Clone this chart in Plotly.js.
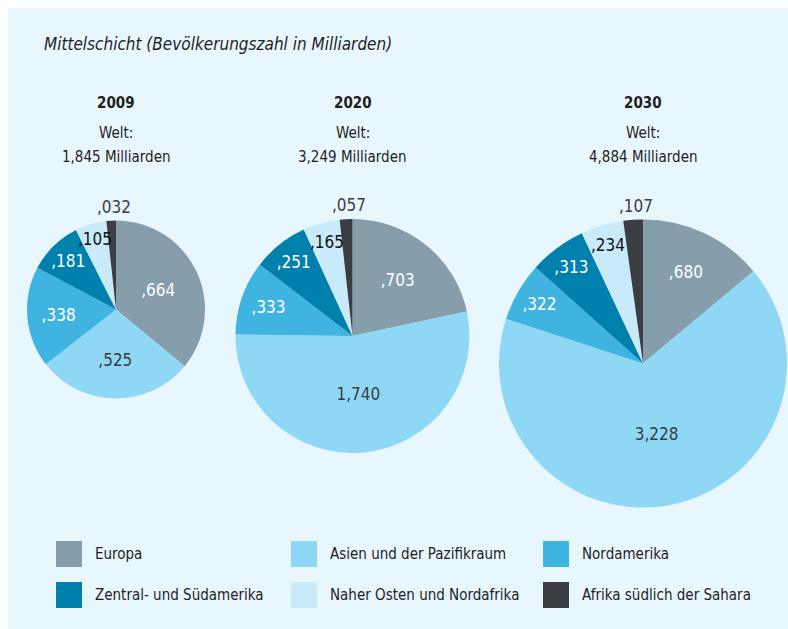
<!DOCTYPE html>
<html>
<head>
<meta charset="utf-8">
<script src="https://cdn.plot.ly/plotly-3.0.1.min.js"></script>
<style>
html,body{margin:0;padding:0;background:#fff;}
#chart{width:788px;height:629px;}
</style>
</head>
<body>
<div id="chart"></div>
<script>
// ---- data ----
const regions = ["Europa", "Asien und der Pazifikraum", "Nordamerika", "Zentral- und Südamerika", "Naher Osten und Nordafrika", "Afrika südlich der Sahara"];
const years = ["2009", "2020", "2030"];
const values2009 = [0.664, 0.525, 0.338, 0.181, 0.105, 0.032];
const values2020 = [0.703, 1.740, 0.333, 0.251, 0.165, 0.057];
const values2030 = [0.680, 3.228, 0.322, 0.313, 0.234, 0.107];
const chartTitle = "Mittelschicht (Bevölkerungszahl in Milliarden)";

// ---- styles ----
const colors = ["#869eab", "#8fd8f5", "#3fb4e0", "#0080ad", "#c8eaf9", "#3c3d42"];
const insideColors = ["#ffffff", "#3a3b40", "#ffffff", "#ffffff", "#111111", "#3c3d42"];
// slices 4 and 5 get their labels as annotations placed from the slice angles
const textPos = ["inside", "inside", "inside", "inside", "none", "none"];
const FONT = "'DejaVu Sans Condensed', 'DejaVu Sans', sans-serif";
const W = 788, H = 629;
const pieGeom = [
  {cx: 116, cy: 309.5, r: 89},
  {cx: 352.5, cy: 336, r: 117},
  {cx: 643, cy: 363.5, r: 144}
];

function fmt(v) {
  let s = v.toFixed(3).replace('.', ',');
  if (s.startsWith('0,')) s = s.slice(1);
  return s;
}

const allValues = [values2009, values2020, values2030];
const traces = allValues.map((vals, i) => {
  const g = pieGeom[i];
  return {
    type: 'pie',
    labels: regions,
    values: vals,
    text: vals.map(fmt),
    textinfo: 'text',
    texttemplate: '%{text}',
    hoverinfo: 'label+text',
    sort: false,
    direction: 'clockwise',
    rotation: 0,
    marker: {colors: colors, line: {width: 0}},
    textposition: textPos,
    insidetextorientation: 'horizontal',
    insidetextfont: {family: FONT, size: 17, color: insideColors},
    outsidetextfont: {family: FONT, size: 17, color: "#3c3d42"},
    showlegend: false,
    domain: {
      x: [(g.cx - g.r) / W, (g.cx + g.r) / W],
      y: [1 - (g.cy + g.r) / H, 1 - (g.cy - g.r) / H]
    }
  };
});

const annotations = [];
function ann(text, px, py, size, color, xanchor, yanchor) {
  annotations.push({
    text: text, xref: 'paper', yref: 'paper',
    x: px / W, y: 1 - py / H, xanchor: xanchor || 'center', yanchor: yanchor || 'middle',
    showarrow: false, font: {family: FONT, size: size, color: color || '#1e1e1e'}
  });
}

ann('<i>' + chartTitle + '</i>', 42, 44, 17, '#1e1e1e', 'left');

years.forEach((yr, i) => {
  const g = pieGeom[i];
  const vals = allValues[i];
  const total = vals.reduce((a, b) => a + b, 0);
  ann('<b>' + yr + '</b>', g.cx, 103, 15);
  ann('Welt:', g.cx, 133, 15);
  ann(total.toFixed(3).replace('.', ',') + ' Milliarden', g.cx, 157, 15);

  // labels for the two small slices, positioned from their mid-angles
  let cum = 0;
  vals.forEach((v, k) => {
    const mid = (cum + v / 2) / total;
    cum += v;
    const ang = mid * 2 * Math.PI;
    if (k === 4) {
      const f = i === 2 ? 0.86 : 0.83;
      ann(fmt(v), g.cx + Math.sin(ang) * g.r * f, g.cy - Math.cos(ang) * g.r * f, 17, '#111111');
    } else if (k === 5) {
      ann(fmt(v), g.cx + Math.sin(ang) * g.r + 3, g.cy - g.r - 2, 17, '#3c3d42', 'center', 'bottom');
    }
  });
});

// legend built from regions/colors (3 columns x 2 rows)
const legCols = [56, 291, 543];
const legRows = [554, 595];
const shapes = [{
  type: 'rect', xref: 'paper', yref: 'paper', layer: 'below',
  x0: 8 / W, x1: 1, y0: 0, y1: 1 - 8 / H,
  fillcolor: '#e8f6fd', line: {width: 0}
}];
regions.forEach((name, k) => {
  const col = k % 3, row = Math.floor(k / 3);
  const x0 = legCols[col], yc = legRows[row];
  shapes.push({
    type: 'rect', xref: 'paper', yref: 'paper',
    x0: x0 / W, x1: (x0 + 26) / W, y0: 1 - (yc + 13) / H, y1: 1 - (yc - 13) / H,
    fillcolor: colors[k], line: {width: 0}
  });
  ann(name, x0 + 37, yc, 15, '#1e1e1e', 'left');
});

const layout = {
  width: W, height: H,
  margin: {l: 0, r: 0, t: 0, b: 0},
  paper_bgcolor: '#ffffff',
  showlegend: false,
  annotations: annotations,
  shapes: shapes
};

Plotly.newPlot('chart', traces, layout, {displayModeBar: false, staticPlot: true});
</script>
</body>
</html>
